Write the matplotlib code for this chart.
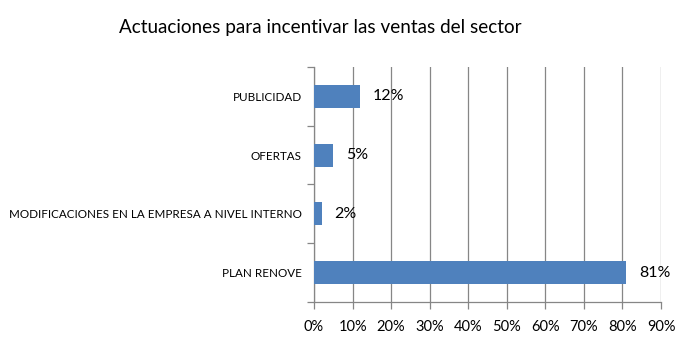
import matplotlib

matplotlib.use("Agg")

import matplotlib.pyplot as plt  # noqa: E402
from matplotlib.ticker import FixedLocator, PercentFormatter  # noqa: E402

categories = ["PLAN RENOVE", "MODIFICACIONES EN LA EMPRESA A NIVEL INTERNO", "OFERTAS", "PUBLICIDAD"]
values = [81, 2, 5, 12]
labels = ["81%", "2%", "5%", "12%"]
x_ticks = [0, 10, 20, 30, 40, 50, 60, 70, 80, 90]

plt.rcParams["font.family"] = ["Lato", "DejaVu Sans"]

fig = plt.figure(figsize=(6.98, 3.48), dpi=100)
ax = fig.add_axes([0.4499, 0.1322, 0.947 - 0.4499, 0.8075 - 0.1322])

grid_color = "#868686"
ypos = list(range(len(categories)))
ax.barh(ypos, values, height=0.39, color="#4F81BD", zorder=3)
for y, v, lab in zip(ypos, values, labels):
    ax.text(v + 3.3, y, lab, va="center", ha="left", fontsize=11.5, color="black")

ax.set_xlim(0, 90)
ax.set_ylim(-0.5, len(categories) - 0.5)
ax.xaxis.set_major_locator(FixedLocator(x_ticks))
ax.xaxis.set_major_formatter(PercentFormatter(decimals=0))
ax.grid(axis="x", color=grid_color, linewidth=0.9, zorder=0)

ax.set_yticks(ypos)
ax.set_yticklabels(categories, fontsize=8.4)
ax.yaxis.set_minor_locator(FixedLocator([-0.5, 0.5, 1.5, 2.5, 3.5]))
ax.tick_params(axis="y", which="major", length=0, pad=9)
ax.tick_params(axis="y", which="minor", length=5, color=grid_color, width=0.9)
ax.tick_params(axis="x", length=5, color=grid_color, width=0.9, labelsize=10.5, pad=8)

for side in ("top", "right"):
    ax.spines[side].set_visible(False)
for side in ("left", "bottom"):
    ax.spines[side].set_color(grid_color)
    ax.spines[side].set_linewidth(0.9)

fig.text(0.459, 0.92, "Actuaciones para incentivar las ventas del sector", ha="center", va="center", fontsize=13.6)

fig.savefig("out.png", dpi=100)
